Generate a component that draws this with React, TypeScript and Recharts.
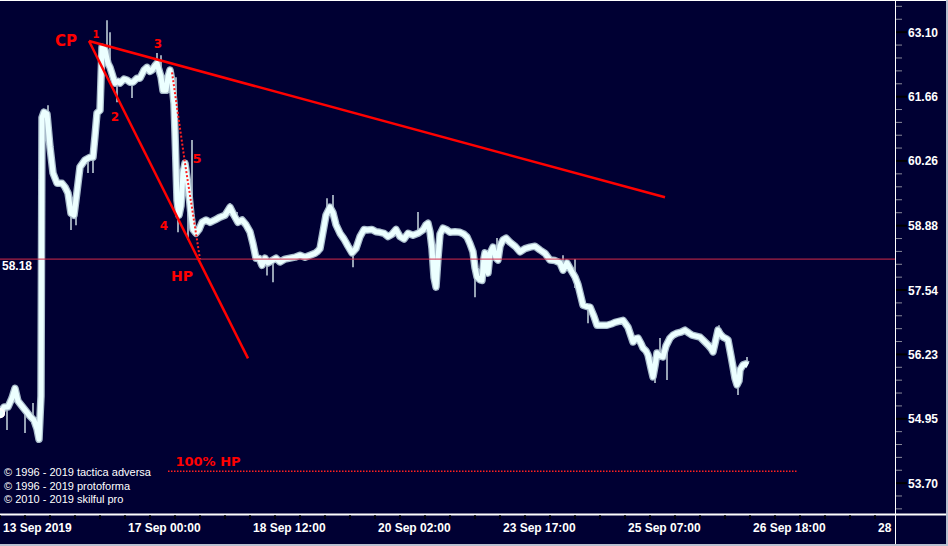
import { ComposedChart, Customized, ErrorBar, Line, ReferenceDot, ReferenceLine, Scatter, XAxis, YAxis } from "recharts";

// bar index along the time axis (weekend gaps removed)
const barIndex = [
  0, 4, 8, 12, 15, 18, 22, 26, 30, 34, 37, 39, 41, 42, 44, 47, 50, 53, 57, 62, 65, 68, 71, 74, 77, 80, 85, 90, 93, 95,
  97, 100, 102, 105, 108, 110, 113, 115, 118, 120, 124, 127, 130, 133, 137, 140, 144, 147, 150, 152, 155, 157, 159,
  161, 163, 166, 168, 170, 172, 174, 175, 177, 179, 181, 183, 185, 187, 189, 191, 193, 196, 199, 202, 206, 210, 215,
  220, 225, 230, 234, 238, 242, 246, 250, 253, 256, 259, 262, 265, 268, 272, 276, 280, 285, 290, 295, 300, 305, 310,
  315, 318, 320, 323, 326, 330, 333, 336, 340, 344, 348, 352, 356, 360, 364, 367, 372, 376, 380, 384, 388, 392, 396,
  400, 404, 408, 413, 418, 423, 426, 428, 430, 432, 434, 436, 438, 440, 443, 447, 450, 455, 460, 464, 467, 470, 473,
  475, 477, 480, 482, 484, 485, 487, 488, 490, 493, 496, 498, 500, 503, 506, 510, 515, 520, 525, 530, 535, 540, 545,
  550, 555, 560, 563, 567, 571, 575, 578, 580, 583, 587, 590, 594, 597, 602, 607, 612, 615, 619, 623, 628, 633, 636,
  638, 641, 643, 646, 648, 651, 653, 655, 657, 660, 663, 666, 670, 673, 677, 681, 685, 689, 692, 696, 700, 704, 708,
  711, 713, 715, 718, 720, 723, 726, 728, 731, 733, 735, 737, 739, 740, 743, 746, 748,
];

const closePrice = [
  55.06, 55.18, 55.18, 55.36, 55.55, 55.3, 55.2, 55.1, 55.0, 54.92, 54.75, 54.55, 55.4, 61.2, 61.32, 61.28, 60.56,
  60.0, 59.78, 59.78, 59.7, 59.57, 59.14, 59.1, 59.6, 60.13, 60.28, 60.34, 60.34, 60.8, 61.3, 61.36, 62.76, 62.7,
  62.4, 62.31, 62.1, 61.96, 62.0, 61.96, 62.05, 62.03, 61.98, 61.98, 62.07, 62.07, 62.25, 62.31, 62.22, 62.25, 62.35,
  62.4, 62.25, 62.1, 61.8, 61.8, 62.1, 62.25, 62.0, 61.5, 60.86, 59.42, 59.1, 59.3, 60.0, 60.21, 59.9, 59.55, 59.1,
  58.8, 58.72, 58.8, 58.95, 59.0, 58.95, 59.0, 59.06, 59.1, 59.27, 59.1, 58.95, 59.0, 58.9, 58.75, 58.5, 58.2, 58.2,
  58.05, 58.2, 58.1, 58.15, 58.2, 58.12, 58.18, 58.2, 58.22, 58.26, 58.22, 58.26, 58.3, 58.35, 58.4, 58.75, 59.1,
  59.27, 59.15, 58.9, 58.72, 58.6, 58.45, 58.31, 58.4, 58.65, 58.8, 58.79, 58.8, 58.75, 58.74, 58.72, 58.65, 58.7,
  58.8, 58.65, 58.6, 58.72, 58.68, 58.72, 58.79, 58.9, 58.93, 58.75, 58.4, 57.8, 57.6, 58.2, 58.7, 58.83, 58.79,
  58.74, 58.75, 58.74, 58.7, 58.64, 58.5, 58.33, 58.0, 57.81, 57.75, 57.74, 58.2, 58.31, 57.95, 57.89, 58.3, 58.43,
  58.2, 58.16, 58.45, 58.58, 58.62, 58.53, 58.45, 58.33, 58.4, 58.43, 58.45, 58.37, 58.3, 58.16, 58.15, 58.1, 57.95,
  58.1, 57.95, 57.81, 57.65, 57.48, 57.23, 57.2, 57.19, 57.0, 56.82, 56.82, 56.82, 56.85, 56.88, 56.9, 56.92, 56.78,
  56.48, 56.55, 56.56, 56.45, 56.36, 56.3, 56.22, 55.95, 55.78, 56.0, 56.26, 56.2, 56.18, 56.4, 56.56, 56.62, 56.66,
  56.68, 56.72, 56.66, 56.62, 56.6, 56.58, 56.5, 56.42, 56.35, 56.28, 56.45, 56.72, 56.65, 56.58, 56.55, 56.52,
  56.2, 55.98, 55.75, 55.62, 55.7, 55.92, 56.02, 56.04, 56.02,
];

// thin high/low spikes sticking out of the price band
const wickBar = [7, 25, 33, 48, 71, 76, 88, 93, 107, 110, 117, 132, 157, 161, 176, 178, 188, 192, 230, 237, 267, 273, 327, 333, 353, 418, 475, 497, 507, 563, 575, 588, 655, 660, 667, 719, 738, 747];
const wickLow = [54.73, 54.67, 54.92, 60.56, 58.79, 58.89, 60.0, 60.0, 62.4, 62.31, 61.54, 61.63, 62.4, 62.1, 60.0, 58.74, 58.58, 59.1, 59.1, 59.0, 57.84, 57.7, 59.0, 59.0, 58.01, 58.7, 57.39, 58.2, 58.5, 57.95, 57.58, 56.86, 55.66, 56.2, 55.72, 56.72, 55.42, 56.04];
const wickHigh = [55.18, 55.1, 55.26, 61.47, 59.3, 59.4, 60.3, 60.34, 63.37, 63.1, 62.0, 62.0, 62.63, 62.58, 62.09, 59.3, 59.6, 60.71, 59.36, 59.17, 58.1, 58.15, 59.46, 59.53, 58.4, 59.17, 58.0, 58.62, 58.68, 58.26, 58.18, 57.2, 56.0, 56.56, 56.4, 56.82, 55.7, 56.18];

const priceTicks = [53.7, 54.95, 56.23, 57.54, 58.88, 60.26, 61.66, 63.1];
const timeLabels = ["13 Sep 2019", "17 Sep 00:00", "18 Sep 12:00", "20 Sep 02:00", "23 Sep 17:00", "25 Sep 07:00", "26 Sep 18:00", "28"];
const timeLabelBars = [0, 125, 250, 375, 500, 625, 750, 875];
const hpLevel = 58.18;

// hand-drawn annotations, in bar / price units
const trendLines = [
  { x1: 89, y1: 62.9, x2: 665, y2: 59.48 },
  { x1: 89, y1: 62.9, x2: 248, y2: 56.15 },
];
const dottedPath = [
  { x1: 172, y1: 62.2, x2: 185, y2: 60.21 },
  { x1: 185, y1: 60.21, x2: 200, y2: 58.18 },
];
const fullHp = { x1: 168, x2: 798, price: 53.93 };
const marks = [
  { text: "CP", bar: 66, price: 62.92, size: 15 },
  { text: "1", bar: 96, price: 63.05, size: 10 },
  { text: "2", bar: 115, price: 61.21, size: 12 },
  { text: "3", bar: 158, price: 62.83, size: 12 },
  { text: "4", bar: 164, price: 58.89, size: 12 },
  { text: "5", bar: 197, price: 60.32, size: 13 },
  { text: "HP", bar: 182, price: 57.83, size: 14 },
  { text: "100% HP", bar: 208, price: 54.12, size: 13 },
];
const copyrights = ["© 1996 - 2019 tactica adversa", "© 1996 - 2019 protoforma", "© 2010 - 2019 skilful pro"];

const table = barIndex.map((bar, i) => ({ bar, close: closePrice[i] }));
const wickRows = wickBar.map((bar, i) => {
  const mid = (wickLow[i] + wickHigh[i]) / 2;
  return { bar, mid, err: [mid - wickLow[i], wickHigh[i] - mid] };
});

const minorTicks: number[] = [];
for (let k = 0; k < priceTicks.length - 1; k++) {
  const a = priceTicks[k];
  const b = priceTicks[k + 1];
  for (let j = 1; j < 5; j++) minorTicks.push(a * Math.pow(b / a, j / 5));
}
{
  const r0 = priceTicks[1] / priceTicks[0];
  const last = priceTicks[priceTicks.length - 1];
  const rN = last / priceTicks[priceTicks.length - 2];
  minorTicks.push(priceTicks[0] / Math.pow(r0, 1 / 5), priceTicks[0] / Math.pow(r0, 2 / 5));
  minorTicks.push(last * Math.pow(rN, 1 / 5), last * Math.pow(rN, 2 / 5));
}
const allPriceTicks = [...priceTicks, ...minorTicks].sort((a, b) => a - b);

const timeTicks: number[] = [];
for (let b = 0; b <= 875; b += 25) timeTicks.push(b);

const W = 948;
const H = 546;
const PLOT_W = 895;
const AXIS_H = 32;
const navy = "#000033";
const font = "'Liberation Sans', Arial, sans-serif";

function PriceTick(props: any) {
  const { x, y, payload } = props;
  const major = priceTicks.some((t) => Math.abs(t - payload.value) < 1e-6);
  if (!major) return <line x1={x + 1} x2={x + 7} y1={y} y2={y} stroke="#8a8a9a" strokeWidth={1} />;
  return (
    <g>
      <line x1={x + 1} x2={x + 12} y1={y} y2={y} stroke="#000" strokeWidth={2} />
      <text x={x + 13} y={y + 4.5} fill="#fff" fontSize={12} fontWeight="bold" fontFamily={font}>
        {payload.value.toFixed(2)}
      </text>
    </g>
  );
}

function TimeTick(props: any) {
  const { x, y, payload } = props;
  const idx = timeLabelBars.indexOf(payload.value);
  return (
    <g>
      <line x1={x} x2={x} y1={y + 1} y2={y + 5} stroke="#000" strokeWidth={1.5} />
      {idx >= 0 && (
        <text x={x + 3} y={y + 18} fill="#fff" fontSize={12} fontWeight="bold" fontFamily={font}>
          {timeLabels[idx]}
        </text>
      )}
    </g>
  );
}

function Frame() {
  return (
    <g>
      <line x1={0} x2={W} y1={0.5} y2={0.5} stroke="#fff" strokeWidth={1} />
      <line x1={PLOT_W + 0.5} x2={PLOT_W + 0.5} y1={0} y2={H} stroke="#fff" strokeWidth={1} />
      <line x1={0} x2={W} y1={H - AXIS_H + 0.5} y2={H - AXIS_H + 0.5} stroke="#fff" strokeWidth={2} />
      <line x1={W - 1} x2={W - 1} y1={0} y2={H} stroke="#b8c0d0" strokeWidth={2} />
      <line x1={0} x2={W} y1={H - 1} y2={H - 1} stroke="#b8c0d0" strokeWidth={2} />
      {copyrights.map((c, i) => (
        <text key={c} x={4} y={476 + i * 13.5} fill="#fff" fontSize={11} fontFamily={font}>
          {c}
        </text>
      ))}
    </g>
  );
}

export default function App() {
  return (
    <div style={{ position: "absolute", left: 0, top: 0, width: W, height: H, background: navy }}>
      <ComposedChart width={W} height={H} data={table} margin={{ top: 0, right: 0, bottom: 0, left: 0 }}>
        <XAxis
          dataKey="bar"
          type="number"
          domain={[0, PLOT_W]}
          ticks={timeTicks}
          interval={0}
          tick={<TimeTick />}
          tickSize={0}
          tickMargin={0}
          axisLine={false}
          tickLine={false}
          height={AXIS_H}
          allowDataOverflow
        />
        <YAxis
          orientation="right"
          scale="log"
          type="number"
          domain={[53.11, 63.83]}
          ticks={allPriceTicks}
          interval={0}
          tick={<PriceTick />}
          tickSize={0}
          tickMargin={0}
          axisLine={false}
          tickLine={false}
          width={W - PLOT_W}
          allowDataOverflow
        />
        <Scatter data={wickRows} dataKey="mid" shape={() => <g />} isAnimationActive={false}>
          <ErrorBar dataKey="err" direction="y" width={0} stroke="#c8d8e0" strokeWidth={1.5} isAnimationActive={false} />
        </Scatter>
        <Line dataKey="close" type="linear" stroke="#a9bccb" strokeWidth={7.5} dot={false} isAnimationActive={false} strokeLinejoin="round" />
        <Line dataKey="close" type="linear" stroke="#ecffff" strokeWidth={5} dot={false} isAnimationActive={false} strokeLinejoin="round" />
        <ReferenceLine
          y={hpLevel}
          stroke="#d42a48"
          strokeWidth={1}
          label={{ value: hpLevel.toFixed(2), position: "insideTopLeft", offset: 2, fill: "#fff", fontSize: 12, fontWeight: "bold", fontFamily: font }}
        />
        {trendLines.map((s, i) => (
          <ReferenceLine key={"t" + i} segment={[{ x: s.x1, y: s.y1 }, { x: s.x2, y: s.y2 }]} stroke="#ff0000" strokeWidth={2.5} />
        ))}
        {dottedPath.map((s, i) => (
          <ReferenceLine key={"d" + i} segment={[{ x: s.x1, y: s.y1 }, { x: s.x2, y: s.y2 }]} stroke="#ff2020" strokeWidth={2} strokeDasharray="2 2" />
        ))}
        <ReferenceLine
          segment={[{ x: fullHp.x1, y: fullHp.price }, { x: fullHp.x2, y: fullHp.price }]}
          stroke="#ff2020"
          strokeWidth={1.5}
          strokeDasharray="1.5 1.5"
        />
        {marks.map((m) => (
          <ReferenceDot
            key={m.text}
            x={m.bar}
            y={m.price}
            r={0}
            shape={(p: any) => (
              <text x={p.cx} y={p.cy} dy={m.size * 0.36} textAnchor="middle" fill="#ff0000" fontSize={m.size} fontWeight="bold" fontFamily="'DejaVu Sans', sans-serif">
                {m.text}
              </text>
            )}
          />
        ))}
        <Customized component={Frame} />
      </ComposedChart>
    </div>
  );
}
